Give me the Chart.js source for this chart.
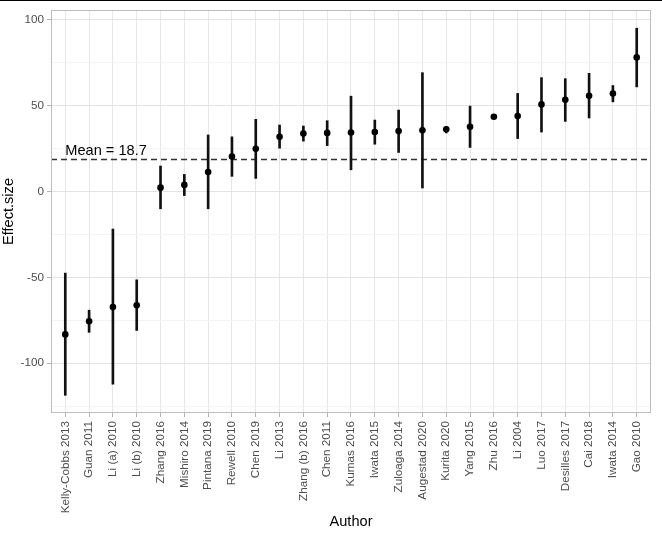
<!DOCTYPE html>
<html>
<head>
<meta charset="utf-8">
<script src="https://cdn.jsdelivr.net/npm/chart.js@4/dist/chart.umd.min.js"></script>
<style>
  html, body { margin: 0; padding: 0; background: #fff; }
  #wrap { position: relative; width: 662px; height: 537px; }
  #topline { position: absolute; left: 0; top: 0; width: 662px; height: 1px; background: #000; }
</style>
</head>
<body>
<div id="wrap">
<canvas id="c" width="662" height="537"></canvas>
<div id="topline"></div>
</div>
<script>
const authors = ["Kelly-Cobbs 2013","Guan 2011","Li (a) 2010","Li (b) 2010","Zhang 2016","Mishiro 2014",
  "Pintana 2019","Rewell 2010","Chen 2019","Li 2013","Zhang (b) 2016","Chen 2011","Kumas 2016",
  "Iwata 2015","Zuloaga 2014","Augestad 2020","Kurita 2020","Yang 2015","Zhu 2016","Li 2004",
  "Luo 2017","Desilles 2017","Cai 2018","Iwata 2014","Gao 2010"];
const effect = [-83.2,-75.5,-67.2,-66.2,2.3,3.9,11.4,20.4,24.9,32.0,33.8,34.2,34.4,34.7,35.3,35.7,36.3,37.8,43.6,44.0,50.8,53.5,55.8,57.2,78.2];
const lower  = [-118.7,-82.0,-112.2,-80.9,-10.0,-2.3,-10.0,8.9,7.7,25.3,29.4,26.8,12.7,27.6,22.8,2.1,34.2,25.7,42.8,30.9,34.7,40.9,42.9,52.3,61.0];
const upper  = [-47.5,-69.1,-21.8,-51.4,14.9,10.0,33.0,31.9,42.1,38.8,38.2,41.3,55.6,41.7,47.5,69.3,38.0,49.8,44.5,57.2,66.4,65.8,68.9,61.8,95.2];
const meanValue = 18.7;
const meanLabel = "Mean = 18.7";
const yTicks = [-125,-100,-75,-50,-25,0,25,50,75,100];

const FONT = "'Liberation Sans', Arial, sans-serif";

const overlay = {
  id: 'overlay',
  beforeDatasetsDraw(chart) {
    const {ctx, chartArea: a, scales: {x, y}} = chart;
    const yp = y.getPixelForValue(meanValue);
    ctx.save();
    ctx.strokeStyle = '#333333';
    ctx.lineWidth = 1.6;
    ctx.setLineDash([6, 4]);
    ctx.beginPath();
    ctx.moveTo(a.left, yp);
    ctx.lineTo(a.right, yp);
    ctx.stroke();
    ctx.setLineDash([]);
    ctx.fillStyle = '#000';
    ctx.font = '14.6px ' + FONT;
    ctx.textAlign = 'left';
    ctx.textBaseline = 'alphabetic';
    ctx.fillText(meanLabel, x.getPixelForValue(1), yp - 4.5);
    ctx.restore();
  },
  afterDraw(chart) {
    const {ctx, chartArea: a} = chart;
    ctx.save();
    ctx.strokeStyle = '#BDBDBD';
    ctx.lineWidth = 1;
    ctx.strokeRect(Math.round(a.left) + 0.5, Math.round(a.top) + 0.5,
                   Math.round(a.right - a.left) - 1, Math.round(a.bottom - a.top) - 1);
    ctx.restore();
  }
};

new Chart(document.getElementById('c'), {
  type: 'bar',
  data: {
    datasets: [
      {
        type: 'scatter',
        label: 'Effect',
        data: authors.map((a, i) => ({x: i + 1, y: effect[i]})),
        pointRadius: 3.3,
        pointBackgroundColor: '#000',
        pointBorderColor: '#000',
        pointBorderWidth: 0,
        showLine: false,
        order: 0
      },
      {
        type: 'bar',
        label: 'CI',
        data: authors.map((a, i) => ({x: i + 1, y: [lower[i], upper[i]]})),
        backgroundColor: '#111',
        borderWidth: 0,
        barThickness: 2,
        order: 1
      }
    ]
  },
  options: {
    responsive: false,
    devicePixelRatio: 1,
    animation: false,
    plugins: { legend: { display: false }, tooltip: { enabled: false } },
    layout: { padding: { top: 7, right: 11, left: 0, bottom: 0 } },
    scales: {
      x: {
        type: 'linear',
        min: 0.4,
        max: 25.6,
        offset: false,
        afterBuildTicks(scale) { scale.ticks = authors.map((a, i) => ({value: i + 1})); },
        afterFit(scale) { scale.height = 124; },
        ticks: {
          autoSkip: false,
          maxRotation: 90,
          minRotation: 90,
          padding: 4,
          color: '#4D4D4D',
          font: { family: FONT, size: 11.7 },
          callback(v) { return authors[Math.round(v) - 1] || ''; }
        },
        grid: {
          offset: false,
          color: '#E6E6E6',
          lineWidth: 1,
          tickColor: '#B3B3B3',
          tickLength: 4,
          drawTicks: true
        },
        border: { display: false },
        title: {
          display: true,
          text: 'Author',
          color: '#000',
          font: { family: FONT, size: 14.6 },
          padding: { top: 0, bottom: 6 }
        }
      },
      y: {
        type: 'linear',
        min: -129,
        max: 105.8,
        afterBuildTicks(scale) { scale.ticks = yTicks.map(v => ({value: v})); },
        afterFit(scale) { scale.width = 51; },
        ticks: {
          padding: 3,
          color: '#4D4D4D',
          font: { family: FONT, size: 11.7 },
          callback(v) { return v % 50 === 0 ? String(v) : ''; }
        },
        grid: {
          color(ctx) { return ctx.tick && ctx.tick.value % 50 === 0 ? '#E3E3E3' : '#F3F3F3'; },
          lineWidth: 1,
          tickColor(ctx) { return ctx.tick && ctx.tick.value % 50 === 0 ? '#B3B3B3' : 'rgba(0,0,0,0)'; },
          tickLength: 4
        },
        border: { display: false },
        title: {
          display: true,
          text: 'Effect.size',
          color: '#000',
          font: { family: FONT, size: 14.6 },
          padding: { top: 0, bottom: 0 }
        }
      }
    }
  },
  plugins: [overlay]
});
</script>
</body>
</html>
